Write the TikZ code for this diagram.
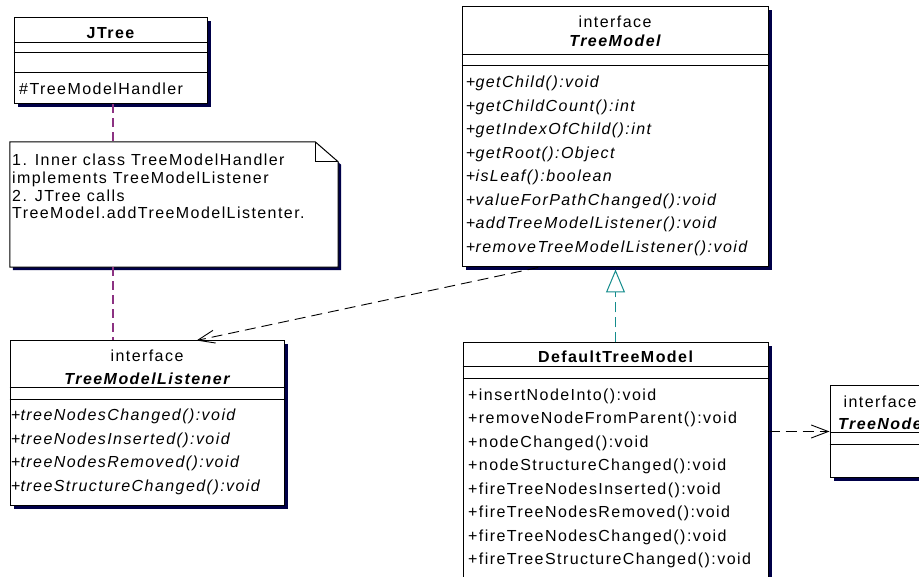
\documentclass[tikz,border=0pt]{standalone}
\usepackage{fontspec}
\setmainfont{Liberation Sans}[LetterSpace=9]
\usepackage{tikz}
\usetikzlibrary{positioning}
\usetikzlibrary{calc, shadows, arrows.meta}
\usepackage{xcolor}
\definecolor{shade}{RGB}{0,0,72}
\definecolor{linkpurple}{RGB}{140,50,130}
\definecolor{realteal}{RGB}{20,140,140}
\newcommand{\umlfont}{\fontsize{16}{23.5}\selectfont}
\newcommand{\notefont}{\fontsize{16}{17.7}\selectfont}

\begin{document}
\begin{tikzpicture}[x=1pt, y=-1pt,
  cls/.style = {draw, line width=1pt, fill=white, inner sep=0pt,
    general shadow={fill=shade, shadow xshift=3.5pt, shadow yshift=-3.5pt}},
  sep/.style = {line width=1pt},
  stereo/.style = {anchor=base, inner sep=0pt, font=\umlfont},
  clsname/.style = {anchor=base, inner sep=0pt, font=\umlfont\bfseries\itshape},
  plainname/.style = {anchor=base, inner sep=0pt, font=\umlfont\bfseries},
  % multi-line lists are placed by the baseline of their last line
  ops/.style = {anchor=base west, inner sep=0pt, align=left, font=\umlfont},
  dep/.style = {line width=0.9pt, dash pattern=on 11pt off 6pt,
    -{Straight Barb[length=17pt, width=13pt]}},
  real/.style = {draw=realteal, line width=1pt, dash pattern=on 10pt off 5pt,
    shorten >=2pt, -{Triangle[open, length=23pt, width=19pt]}},
  link/.style = {draw=linkpurple, line width=1.2pt, dash pattern=on 9pt off 5pt}]

\useasboundingbox (0,0) rectangle (919,577);
\clip (0,0) rectangle (919,577);

% class boxes
\node[cls, minimum width=193pt, minimum height=86pt] (jtree) at (110.5,61) {};
\node[cls, minimum width=306pt, minimum height=260pt] (tm) at (615,137) {};
\node[cls, minimum width=274pt, minimum height=164pt] (tml) at (147,423) {};
\node[cls, minimum width=305pt, minimum height=250pt] (dtm) at (615.5,468) {};
\node[cls, minimum width=100pt, minimum height=91pt] (tn) at (880,431.5) {};

% compartments
\draw[sep] (jtree.west |- 0,43) -- (jtree.east |- 0,43);
\draw[sep] (jtree.west |- 0,53) -- (jtree.east |- 0,53);
\draw[sep] (jtree.west |- 0,73) -- (jtree.east |- 0,73);
\draw[sep] (tm.west |- 0,55) -- (tm.east |- 0,55);
\draw[sep] (tm.west |- 0,66) -- (tm.east |- 0,66);
\draw[sep] (tml.west |- 0,388) -- (tml.east |- 0,388);
\draw[sep] (tml.west |- 0,400) -- (tml.east |- 0,400);
\draw[sep] (dtm.west |- 0,367) -- (dtm.east |- 0,367);
\draw[sep] (dtm.west |- 0,379) -- (dtm.east |- 0,379);
\draw[sep] (tn.west |- 0,433) -- (tn.east |- 0,433);
\draw[sep] (tn.west |- 0,444) -- (tn.east |- 0,444);

% the note with its folded corner
\node[minimum width=328pt, minimum height=125pt, inner sep=0pt] (note) at (174,204.5) {};
\draw[line width=1pt, fill=white,
    general shadow={fill=shade, shadow xshift=3pt, shadow yshift=-3pt}]
  (note.north west) -- ($(note.north east)+(-23,0)$) -- ($(note.north east)+(0,20)$)
  -- (note.south east) -- (note.south west) -- cycle;
\draw[sep] ($(note.north east)+(-23,0)$) |- ($(note.north east)+(0,20)$);

% texts
\node[plainname] (jtreename) at (110.5,39) {JTree};
\node[ops] (jtreeattr) at (19,95) {\#TreeModelHandler};

\node[ops, font=\notefont] (notetext) at (12,219) {1. Inner class TreeModelHandler\\
  implements TreeModelListener\\2. JTree calls\\TreeModel.addTreeModelListenter.};

\node[stereo] (tmstereo) at (615,28) {interface};
\node[clsname] (tmname) at (615,47) {TreeModel};
\node[ops] (tmops) at (466,252.5) {+\textit{getChild():void}\\+\textit{getChildCount():int}\\
  +\textit{getIndexOfChild():int}\\+\textit{getRoot():Object}\\+\textit{isLeaf():boolean}\\
  +\textit{valueForPathChanged():void}\\+\textit{addTreeModelListener():void}\\
  +\textit{removeTreeModelListener():void}};

\node[stereo] (tmlstereo) at (147,362) {interface};
\node[clsname] (tmlname) at (147,385) {TreeModelListener};
\node[ops] (tmlops) at (11,491) {+\textit{treeNodesChanged():void}\\+\textit{treeNodesInserted():void}\\
  +\textit{treeNodesRemoved():void}\\+\textit{treeStructureChanged():void}};

\node[plainname] (dtmname) at (615.5,363) {DefaultTreeModel};
\node[ops] (dtmops) at (468,564.5) {+insertNodeInto():void\\+removeNodeFromParent():void\\
  +nodeChanged():void\\+nodeStructureChanged():void\\+fireTreeNodesInserted():void\\
  +fireTreeNodesRemoved():void\\+fireTreeNodesChanged():void\\+fireTreeStructureChanged():void};

\node[stereo] (tnstereo) at (880,407) {interface};
\node[clsname] (tnname) at (880,430) {TreeNode};

% connectors
\coordinate (hook) at ($(jtree.south)+(2.5,0)$);
\coordinate (tmfoot) at ($(tm.south west)!0.25!(tm.south east)$);
\coordinate (tmlhead) at ($(tml.north west)!0.68!(tml.north east)$);
\path (hook) edge [link] (hook |- note.north);
\path (note.south -| hook) edge [link] (tml.north -| hook);
\path (tmfoot) edge [dep] (tmlhead);
\path (dtm.north) edge [real] (dtm.north |- tm.south);
\path (dtm.east |- tn.west) edge [dep] (tn.west);
\end{tikzpicture}
\end{document}
